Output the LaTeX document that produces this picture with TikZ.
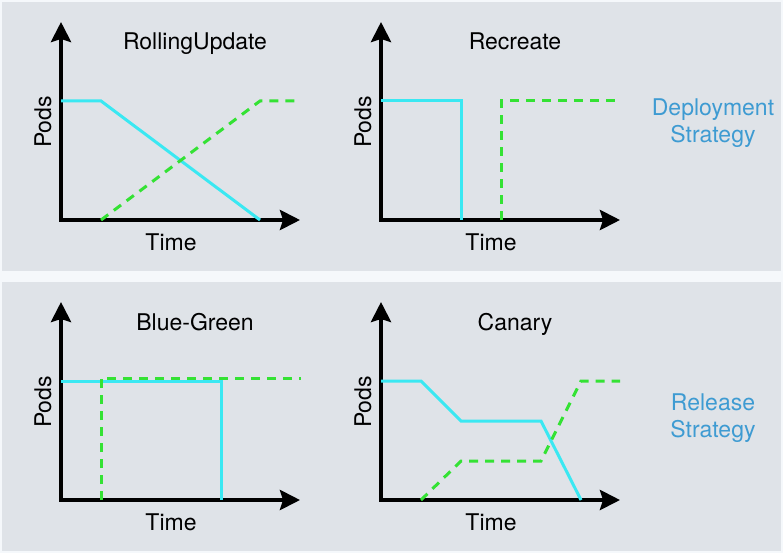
\documentclass[tikz,border=0pt]{standalone}
\usepackage{fontspec}
\setmainfont{TeX Gyre Heros}
\usetikzlibrary{arrows.meta}
\tikzset{>={Stealth[length=20pt,width=20pt,inset=3pt]}}
\definecolor{pagebg}{RGB}{245,248,251}
\definecolor{panelgray}{RGB}{223,227,232}
\definecolor{oldpods}{RGB}{58,232,242}
\definecolor{newpods}{RGB}{52,226,52}
\definecolor{strategyblue}{RGB}{62,155,210}

\begin{document}
\begin{tikzpicture}[x=1pt,y=-1pt,
    lbl/.style={font=\fontsize{23}{27}\selectfont,inner sep=0pt},
    axis/.style={line width=4pt,<->},
    oldline/.style={oldpods,line width=3pt},
    newline/.style={newpods,line width=3pt,dash pattern=on 9pt off 7pt}]
    % background and the two bands
    \fill[pagebg] (0,0) rectangle (783,553);
    \fill[panelgray] (2,2) rectangle (781,271);
    \fill[panelgray] (2,282) rectangle (781,551);
    % axes and labels of the four charts
    \foreach \dx/\dy/\name/\title in {0/0/rolling/RollingUpdate, 320/0/recreate/Recreate, 0/280/bluegreen/Blue-Green, 320/280/canary/Canary} {
      \begin{scope}[shift={(\dx,\dy)}]
        \draw[axis] (61,22) -- (61,220) -- (300,220);
        \node[lbl,anchor=base] (\name-title) at (195,50) {\title};
        \node[lbl,anchor=base] (\name-time) at (171,250) {Time};
        \node[lbl,anchor=base,rotate=90] (\name-pods) at (51,122) {Pods};
      \end{scope}
    }
    % RollingUpdate
    \draw[oldline] (61,101) -- (101,101) -- (260,220);
    \draw[newline] (101,220) -- (260,101) -- (300,101);
    % Recreate
    \draw[oldline] (381,101) -- (461,101) -- (461,220);
    \draw[newline] (501,220) -- (501,101) -- (620,101);
    % Blue-Green
    \draw[oldline] (61,381) -- (221,381) -- (221,500);
    \draw[newline] (101,500) -- (101,378) -- (301,378);
    % Canary
    \draw[oldline] (381,381) -- (421,381) -- (461,421) -- (541,421) -- (581,500);
    \draw[newline] (421,500) -- (461,461) -- (541,461) -- (581,381) -- (620,381);
    % strategy labels
    \node[lbl,text=strategyblue,align=center] (deploy) at (713,123) {Deployment\\Strategy};
    \node[lbl,text=strategyblue,align=center] (release) at (713,418) {Release\\Strategy};
\end{tikzpicture}
\end{document}
